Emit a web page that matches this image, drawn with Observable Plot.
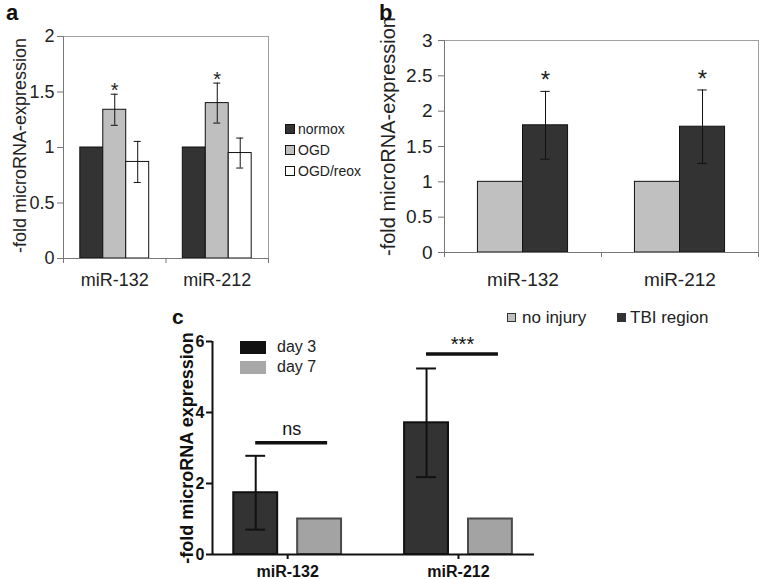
<!DOCTYPE html>
<html><head><meta charset="utf-8">
<script src="https://cdn.jsdelivr.net/npm/d3@7"></script>
<script src="https://cdn.jsdelivr.net/npm/@observablehq/plot@0.6"></script>
<style>
body{margin:0;background:#fff;font-family:"Liberation Sans",Arial,sans-serif;}
#fig{position:relative;width:762px;height:579px;overflow:hidden;background:#fff;}
#fig svg{position:absolute;overflow:visible;}
.letter{position:absolute;font-weight:bold;line-height:1;color:#111;}
.leg{position:absolute;display:flex;align-items:center;white-space:nowrap;color:#222;line-height:1;}
.sw{display:inline-block;box-sizing:border-box;}
</style></head><body><div id="fig"></div>
<script>
const FONT = '"Liberation Sans", Arial, sans-serif';
const groups = ["miR-132", "miR-212"];

// ---- panel a ----
const seriesA = ["normox", "OGD", "OGD/reox"];
const colorsA = ["#333333", "#bfbfbf", "#ffffff"];
const aNormox = [1.00, 1.00];
const aOGD = [1.34, 1.40];
const aOGDsd = [0.14, 0.18];
const aReox = [0.87, 0.95];
const aReoxSd = [0.185, 0.135];
const aStarSeries = ["OGD"];
const ticksA = [0, 0.5, 1, 1.5, 2];

// ---- panel b ----
const seriesB = ["no injury", "TBI region"];
const colorsB = ["#c0c0c0", "#333333"];
const bNoInjury = [1.00, 1.00];
const bTBI = [1.80, 1.78];
const bTBIsd = [0.48, 0.52];
const bStarSeries = ["TBI region"];
const ticksB = [0, 0.5, 1, 1.5, 2, 2.5, 3];

// ---- panel c ----
const seriesC = ["day 3", "day 7"];
const colorsC = ["#333333", "#a3a3a3"];
const cDay3 = [1.74, 3.71];
const cDay3sd = [1.04, 1.53];
const cDay7 = [1.00, 1.00];
const cSigLabels = ["ns", "***"];
const cSigY = [3.15, 5.65];
const ticksC = [0, 2, 4, 6];

const yTitleAB = "-fold microRNA-expression";
const yTitleC = "-fold microRNA expression";
const letters = ["a", "b", "c"];

function table(series, vals, sds, step, width) {
  const rows = [];
  const n = series.length;
  groups.forEach((g, gi) => series.forEach((s, si) => {
    const cx = gi + (si - (n - 1) / 2) * step;
    rows.push({group: g, gi, series: s, si, value: vals[si][gi],
      sd: sds[si] ? sds[si][gi] : null, cx, x1: cx - width / 2, x2: cx + width / 2});
  }));
  return rows;
}

function errMarks(err, cap, stroke, sw) {
  return [
    Plot.ruleX(err, {x: "cx", y1: d => d.value - d.sd, y2: d => d.value + d.sd, stroke, strokeWidth: sw}),
    Plot.ruleY(err, {y: d => d.value + d.sd, x1: d => d.cx - cap, x2: d => d.cx + cap, stroke, strokeWidth: sw}),
    Plot.ruleY(err, {y: d => d.value - d.sd, x1: d => d.cx - cap, x2: d => d.cx + cap, stroke, strokeWidth: sw})
  ];
}

const fig = document.getElementById("fig");
function place(el, left, top) { el.style.left = left + "px"; el.style.top = top + "px"; fig.appendChild(el); }

// ===== Panel a =====
const dataA = table(seriesA, [aNormox, aOGD, aReox], [null, aOGDsd, aReoxSd], 0.224, 0.224);
const errA = dataA.filter(d => d.sd != null);
const xDomA = [-0.5, groups.length - 0.5];
const plotA = Plot.plot({
  width: 370, height: 300, marginLeft: 63, marginRight: 102, marginTop: 36, marginBottom: 42,
  x: {domain: xDomA}, y: {domain: [ticksA[0], ticksA[ticksA.length - 1]]},
  color: {domain: seriesA, range: colorsA},
  style: {fontFamily: FONT, fontSize: "18px", color: "#222", background: "transparent"},
  marks: [
    Plot.frame({stroke: "#a0a0a0"}),
    Plot.rectY(dataA, {x1: "x1", x2: "x2", y: "value", fill: "series", stroke: "#111", strokeWidth: 1}),
    ...errMarks(errA, 0.034, "#111", 1),
    Plot.text(errA.filter(d => aStarSeries.includes(d.series)), {x: "cx", y: d => d.value + d.sd, text: () => "*", fontSize: 20, dy: -4, fill: "#222"}),
    Plot.ruleX([xDomA[0]], {stroke: "#777"}),
    Plot.ruleY([0], {stroke: "#777"}),
    Plot.axisY({ticks: ticksA, tickSize: 6, tickPadding: 3, tickFormat: d => String(d), label: null, fontSize: 18, stroke: "#777", fill: "#222"}),
    Plot.axisX({ticks: d3.range(groups.length + 1).map(i => i - 0.5), tickSize: 5, tickFormat: () => "", label: null, stroke: "#777"}),
    Plot.axisX({ticks: d3.range(groups.length), tickSize: 0, tickPadding: 15, tickFormat: i => groups[i], label: null, fontSize: 18, fill: "#222"}),
    Plot.text([yTitleAB], {text: d => d, frameAnchor: "left", textAnchor: "middle", lineAnchor: "middle", rotate: -90, dx: -43, dy: -2, fontSize: 18, fill: "#222"})
  ]
});
place(plotA, 0, 0);

// legend a
seriesA.forEach((s, i) => {
  const el = document.createElement("div");
  el.className = "leg";
  el.style.fontSize = "14px";
  el.innerHTML = `<span class="sw" style="width:10px;height:10px;background:${colorsA[i]};border:1px solid #111;margin-right:3px"></span>${s}`;
  place(el, 285, [122, 143, 164][i]);
});

// ===== Panel b =====
const dataB = table(seriesB, [bNoInjury, bTBI], [null, bTBIsd], 0.287, 0.287);
const errB = dataB.filter(d => d.sd != null);
const xDomB = [-0.5, groups.length - 0.5];
const plotB = Plot.plot({
  width: 392, height: 300, marginLeft: 74, marginRight: 4, marginTop: 40, marginBottom: 48,
  x: {domain: xDomB}, y: {domain: [ticksB[0], ticksB[ticksB.length - 1]]},
  color: {domain: seriesB, range: colorsB},
  style: {fontFamily: FONT, fontSize: "19px", color: "#222", background: "transparent"},
  marks: [
    Plot.frame({stroke: "#a0a0a0"}),
    Plot.rectY(dataB, {x1: "x1", x2: "x2", y: "value", fill: "series", stroke: "#111", strokeWidth: 1}),
    ...errMarks(errB, 0.03, "#111", 1),
    Plot.text(errB.filter(d => bStarSeries.includes(d.series)), {x: "cx", y: d => d.value + d.sd, text: () => "*", fontSize: 24, dy: -11, fill: "#222"}),
    Plot.ruleX([xDomB[0]], {stroke: "#777"}),
    Plot.ruleY([0], {stroke: "#777"}),
    Plot.axisY({ticks: ticksB, tickSize: 6, tickPadding: 6, tickFormat: d => String(d), label: null, fontSize: 19, stroke: "#777", fill: "#222"}),
    Plot.axisX({ticks: d3.range(groups.length + 1).map(i => i - 0.5), tickSize: 5, tickFormat: () => "", label: null, stroke: "#777"}),
    Plot.axisX({ticks: d3.range(groups.length), tickSize: 0, tickPadding: 20, tickFormat: i => groups[i], label: null, fontSize: 19, fill: "#222"}),
    Plot.text([yTitleAB], {text: d => d, frameAnchor: "left", textAnchor: "middle", lineAnchor: "middle", rotate: -90, dx: -56, dy: -10, fontSize: 20, fill: "#222"})
  ]
});
place(plotB, 370, 0);

// legend b
[[507, 522], [617, 630]].forEach(([sx, tx], i) => {
  const el = document.createElement("div");
  el.className = "leg";
  el.style.fontSize = "17px";
  el.innerHTML = `<span class="sw" style="width:9px;height:9px;background:${colorsB[i]};border:1px solid #333;margin-right:${tx - sx - 9}px"></span>${seriesB[i]}`;
  place(el, sx, 309);
});

// ===== Panel c =====
const dataC = table(seriesC, [cDay3, cDay7], [cDay3sd, null], 0.374, 0.257);
const errC = dataC.filter(d => d.sd != null);
const xDomC = [-0.44, groups.length - 1 + 0.445];
const sigC = groups.map((g, gi) => {
  const bars = dataC.filter(d => d.gi === gi);
  return {label: cSigLabels[gi], y: cSigY[gi], x1: bars[0].cx, x2: bars[bars.length - 1].cx + 0.047};
});
const sigNs = sigC.filter(d => d.label === "ns");
const sigStars = sigC.filter(d => d.label !== "ns");
const plotC = Plot.plot({
  width: 400, height: 279, marginLeft: 62, marginRight: 16, marginTop: 41, marginBottom: 25,
  x: {domain: xDomC}, y: {domain: [ticksC[0], ticksC[ticksC.length - 1]]},
  color: {domain: seriesC, range: colorsC},
  style: {fontFamily: FONT, fontSize: "16px", color: "#111", background: "transparent"},
  marks: [
    Plot.rectY(dataC, {x1: "x1", x2: "x2", y: "value", fill: "series", stroke: d => d.si === 0 ? "#111" : "#4a4a4a", strokeWidth: 2}),
    ...errMarks(errC, 0.058, "#111", 2),
    Plot.ruleY(sigC, {y: "y", x1: "x1", x2: "x2", stroke: "#111", strokeWidth: 3.5}),
    Plot.text(sigNs, {x: d => (d.x1 + d.x2) / 2, y: "y", text: "label", fontSize: 18, dy: -13, fill: "#111"}),
    Plot.text(sigStars, {x: d => (d.x1 + d.x2) / 2, y: "y", text: "label", fontSize: 20, dy: -9, fill: "#111"}),
    Plot.ruleX([xDomC[0]], {stroke: "#111", strokeWidth: 2}),
    Plot.ruleY([0], {stroke: "#111", strokeWidth: 2}),
    Plot.axisY({ticks: ticksC, tickSize: 6, tickPadding: 2, tickFormat: d => String(d), label: null, fontSize: 16, fontWeight: "bold", stroke: "#111", strokeWidth: 2, fill: "#111"}),
    Plot.axisX({ticks: d3.range(groups.length), tickSize: 5, tickPadding: 6, tickFormat: i => groups[i], label: null, fontSize: 16, fontWeight: "bold", stroke: "#111", strokeWidth: 2, fill: "#111"}),
    Plot.text([yTitleC], {text: d => d, frameAnchor: "left", textAnchor: "middle", lineAnchor: "middle", rotate: -90, dx: -25, fontSize: 18, fontWeight: "bold", fill: "#111"})
  ]
});
place(plotC, 150, 300);

// legend c
seriesC.forEach((s, i) => {
  const el = document.createElement("div");
  el.className = "leg";
  el.style.fontSize = "16px";
  el.innerHTML = `<span class="sw" style="width:26px;height:13px;background:${i === 0 ? "#111" : "#a8a8a8"};margin-right:11px"></span>${s}`;
  place(el, 240, [339, 359][i]);
});

// panel letters
[[letters[0], 6, 2, 22], [letters[1], 379, 2, 22], [letters[2], 172, 306, 21]].forEach(([t, x, y, fs]) => {
  const el = document.createElement("div");
  el.className = "letter";
  el.style.fontSize = fs + "px";
  el.textContent = t;
  place(el, x, y);
});
</script></body></html>
